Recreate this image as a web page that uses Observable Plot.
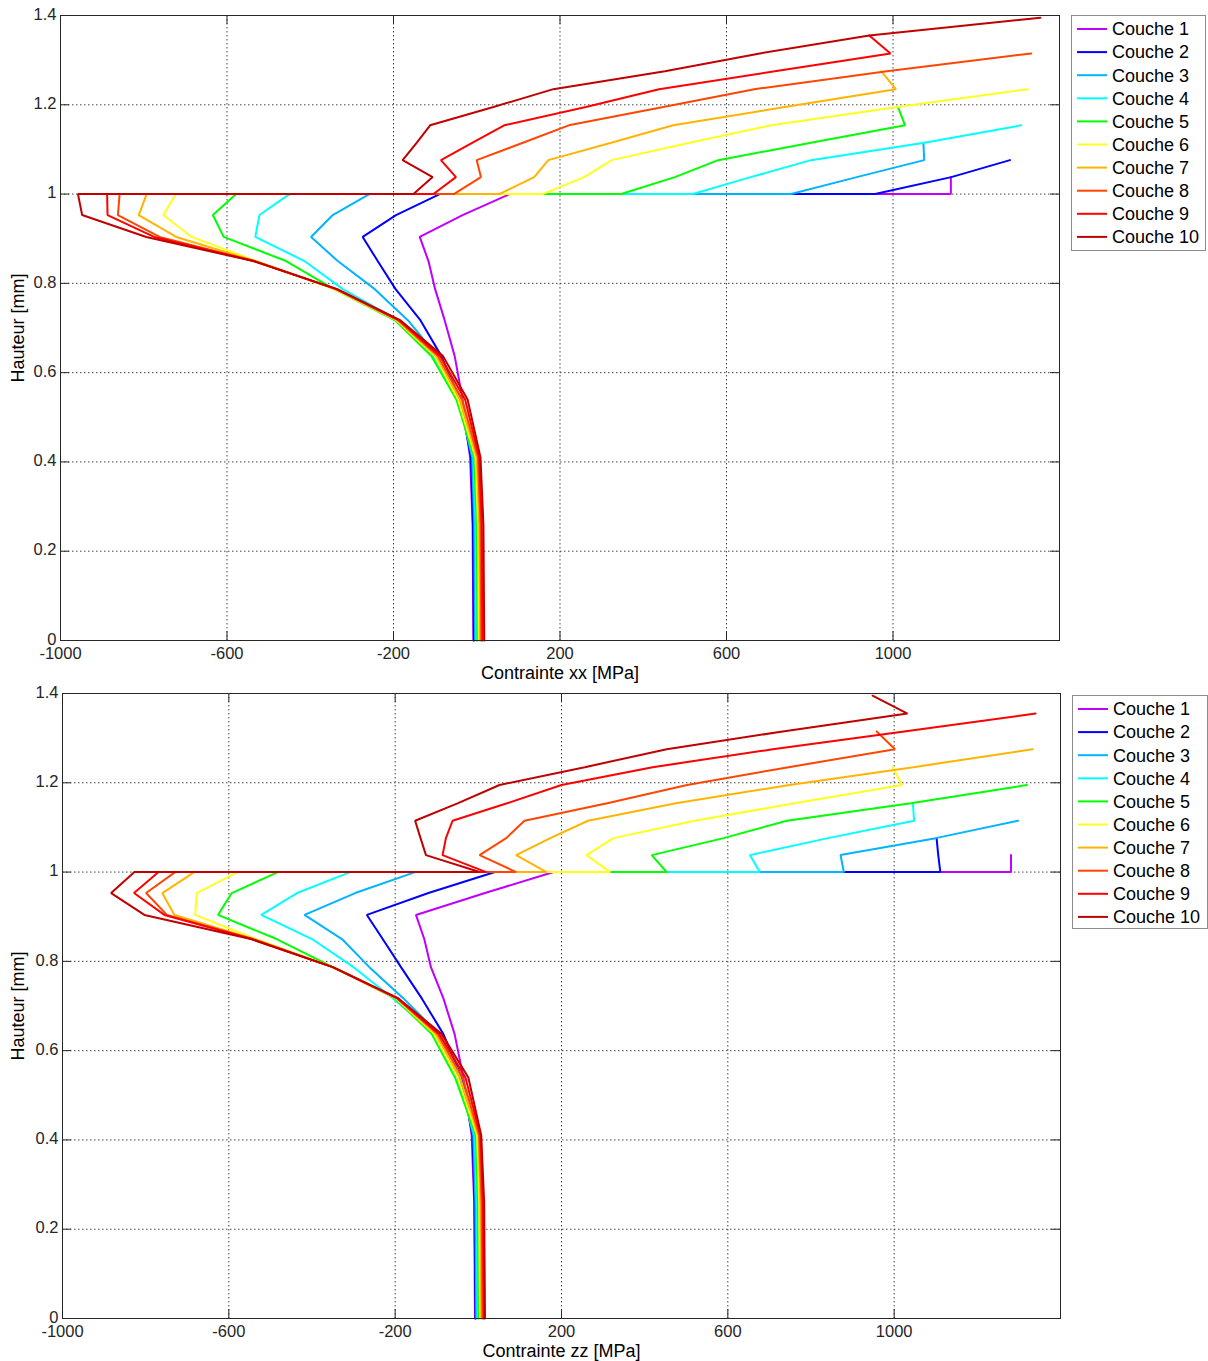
<!DOCTYPE html>
<html><head><meta charset="utf-8">
<script src="https://cdn.jsdelivr.net/npm/d3@7"></script>
<script src="https://cdn.jsdelivr.net/npm/@observablehq/plot@0.6"></script>
<style>
body{margin:0;background:#fff;}
#root{position:relative;width:1208px;height:1361px;overflow:hidden;background:#fff;font-family:"Liberation Sans",Arial,sans-serif;}
.panel{position:absolute;left:0;}
.legend{position:absolute;}
</style></head><body><div id="root"></div>
<script>
const layerNames = ["Couche 1","Couche 2","Couche 3","Couche 4","Couche 5","Couche 6","Couche 7","Couche 8","Couche 9","Couche 10"];
const layerColors = ["#bf00ff","#0000ff","#00b4ff","#00ffff","#00ff00","#ffff1e","#ffb400","#ff4600","#ff0000","#c00000"];
const xTicks = [-1000,-600,-200,200,600,1000];
const yTicks = [0,0.2,0.4,0.6,0.8,1,1.2,1.4];
// heights of the substrate nodes (0 .. 1 mm) and of the deposited-layer nodes (1 .. 1.4 mm)
const substrateHeights = [0, 0.26, 0.41, 0.54, 0.637, 0.717, 0.787, 0.85, 0.904, 0.953, 1.0];
const layerHeights = [1.0, 1.038, 1.076, 1.115, 1.154, 1.195, 1.235, 1.275, 1.315, 1.355, 1.395];

// Contrainte xx : substrate part, one row per layer (values at substrateHeights)
const xxSubstrate = [
  [-8, -10, -16, -34, -53, -77, -100, -116, -137, -34, 79],
  [-7, -9, -14, -40, -85, -135, -195, -238, -274, -194, -89],
  [-4, -6, -11, -43, -95, -165, -245, -334, -398, -346, -258],
  [-1, -3, -8, -46, -105, -188, -322, -414, -532, -522, -450],
  [2, 0, -6, -49, -109, -196, -343, -458, -608, -634, -578],
  [5, 3, -3, -45, -101, -192, -343, -530, -685, -753, -723],
  [8, 6, 0, -40, -97, -190, -340, -533, -722, -812, -793],
  [11, 9, 3, -35, -93, -188, -338, -535, -762, -862, -858],
  [14, 12, 6, -28, -88, -186, -337, -536, -775, -887, -888],
  [18, 16, 9, -22, -81, -183, -335, -537, -794, -948, -958]
];
// Contrainte xx : deposited part (values at layerHeights, layer n has n+1 nodes)
const xxLayer = [
  [1139, 1139],
  [957, 1140, 1281],
  [755, 913, 1075, 1073],
  [519, 658, 803, 1075, 1308],
  [347, 476, 580, 803, 1029, 1012],
  [158, 258, 324, 512, 707, 1010, 1324],
  [54, 138, 172, 323, 472, 740, 1007, 972],
  [-55, 10, 0, 111, 221, 448, 667, 985, 1332],
  [-104, -50, -86, -10, 66, 262, 438, 716, 994, 943],
  [-152, -106, -178, -144, -112, 40, 184, 452, 680, 943, 1354]
];
// Contrainte zz : substrate part
const zzSubstrate = [
  [-8, -10, -16, -36, -57, -84, -114, -130, -150, 16, 181],
  [-7, -9, -14, -40, -84, -136, -186, -230, -268, -120, 40],
  [-5, -7, -12, -45, -95, -180, -262, -328, -418, -296, -152],
  [-2, -4, -9, -50, -105, -205, -300, -400, -522, -436, -308],
  [1, -1, -6, -56, -112, -200, -350, -485, -626, -593, -482],
  [4, 2, -3, -50, -106, -198, -350, -535, -681, -677, -579],
  [7, 5, 0, -44, -102, -196, -350, -540, -731, -760, -683],
  [10, 8, 2, -38, -98, -195, -350, -543, -749, -799, -729],
  [13, 11, 5, -31, -94, -194, -350, -545, -755, -828, -769],
  [16, 14, 7, -24, -88, -192, -350, -547, -803, -883, -827]
];
// Contrainte zz : deposited part
const zzLayer = [
  [1281, 1281],
  [1111, 1106, 1102],
  [879, 871, 1100, 1298],
  [677, 653, 841, 1048, 1045],
  [453, 417, 590, 742, 1040, 1319],
  [317, 260, 325, 520, 760, 1019, 996],
  [164, 91, 173, 264, 475, 748, 1046, 1333],
  [91, 3, 67, 111, 310, 502, 746, 1002, 958],
  [19, -86, -78, -62, 69, 200, 419, 708, 1024, 1340],
  [3, -126, -139, -152, -50, 51, 256, 453, 732, 1032, 948]
];

const FONT = '"Liberation Sans", Arial, sans-serif';

function buildRows(sub, lay) {
  const out = [];
  layerNames.forEach((name, i) => {
    substrateHeights.forEach((h, j) => out.push({layer: name, x: sub[i][j], y: h}));
    lay[i].forEach((v, k) => out.push({layer: name, x: v, y: layerHeights[k]}));
  });
  return out;
}

function panel(rows, xLabel, top, mLeft, mRight, height, mBottom) {
  const width = 1065;
  const mTop = 15;
  const fw = width - mLeft - mRight;
  const fh = height - mTop - mBottom;
  const chart = Plot.plot({
    width, height,
    marginLeft: mLeft, marginRight: mRight, marginTop: mTop, marginBottom: mBottom,
    style: {fontFamily: FONT, fontSize: "17px", color: "#262626", background: "transparent", overflow: "visible"},
    x: {domain: [-1000, 1400]},
    y: {domain: [0, 1.4]},
    color: {domain: layerNames, range: layerColors},
    marks: [
      Plot.gridX(xTicks, {stroke: "#333", strokeOpacity: 0.9, strokeDasharray: "1.5,2.5", strokeWidth: 1}),
      Plot.gridY(yTicks, {stroke: "#333", strokeOpacity: 0.9, strokeDasharray: "1.5,2.5", strokeWidth: 1}),
      Plot.tickY(yTicks, {y: d => d, insetRight: fw - 9, stroke: "#262626"}),
      Plot.tickY(yTicks, {y: d => d, insetLeft: fw - 9, stroke: "#262626"}),
      Plot.tickX(xTicks, {x: d => d, insetTop: fh - 9, stroke: "#262626"}),
      Plot.tickX(xTicks, {x: d => d, insetBottom: fh - 9, stroke: "#262626"}),
      Plot.line(rows, {x: "x", y: "y", z: "layer", stroke: "layer", strokeWidth: 2, strokeLinejoin: "miter", curve: "linear"}),
      Plot.frame({stroke: "#262626", strokeWidth: 1}),
      Plot.axisX(xTicks, {tickSize: 0, tickPadding: 7, tickFormat: d => String(d), label: null, fontSize: 16.5}),
      Plot.axisY(yTicks, {tickSize: 0, tickPadding: 4, tickFormat: d => String(d), label: null, fontSize: 16.5, dy: -1}),
      Plot.text([xLabel], {frameAnchor: "bottom", dy: 33, fontSize: 18, fill: "#000", lineAnchor: "middle", textAnchor: "middle"}),
      Plot.text(["Hauteur [mm]"], {frameAnchor: "left", dx: -mLeft + 18, rotate: -90, fontSize: 18, fill: "#000", textAnchor: "middle", lineAnchor: "middle"})
    ]
  });
  chart.classList.add("panel");
  chart.style.top = top + "px";
  return chart;
}

function legend(left, top, w, h) {
  const ns = "http://www.w3.org/2000/svg";
  const svg = document.createElementNS(ns, "svg");
  svg.setAttribute("width", w); svg.setAttribute("height", h);
  svg.setAttribute("class", "legend");
  svg.style.left = left + "px"; svg.style.top = top + "px";
  const rect = document.createElementNS(ns, "rect");
  rect.setAttribute("x", 0.5); rect.setAttribute("y", 0.5);
  rect.setAttribute("width", w - 1); rect.setAttribute("height", h - 1);
  rect.setAttribute("fill", "#fff"); rect.setAttribute("stroke", "#8c8c8c");
  svg.appendChild(rect);
  layerNames.forEach((name, i) => {
    const cy = 14 + i * 23.1;
    const ln = document.createElementNS(ns, "line");
    ln.setAttribute("x1", 6); ln.setAttribute("x2", 36);
    ln.setAttribute("y1", cy); ln.setAttribute("y2", cy);
    ln.setAttribute("stroke", layerColors[i]); ln.setAttribute("stroke-width", 2);
    svg.appendChild(ln);
    const t = document.createElementNS(ns, "text");
    t.setAttribute("x", 41); t.setAttribute("y", cy);
    t.setAttribute("dy", "0.35em");
    t.setAttribute("font-family", FONT); t.setAttribute("font-size", 18);
    t.setAttribute("fill", "#000");
    t.textContent = name;
    svg.appendChild(t);
  });
  return svg;
}

const root = document.getElementById("root");
root.appendChild(panel(buildRows(xxSubstrate, xxLayer), "Contrainte xx [MPa]", 0, 60, 6, 678, 38));
root.appendChild(panel(buildRows(zzSubstrate, zzLayer), "Contrainte zz [MPa]", 678, 62, 5, 683, 43));
root.appendChild(legend(1071, 15, 135, 236));
root.appendChild(legend(1072, 695, 136, 234));
</script></body></html>
